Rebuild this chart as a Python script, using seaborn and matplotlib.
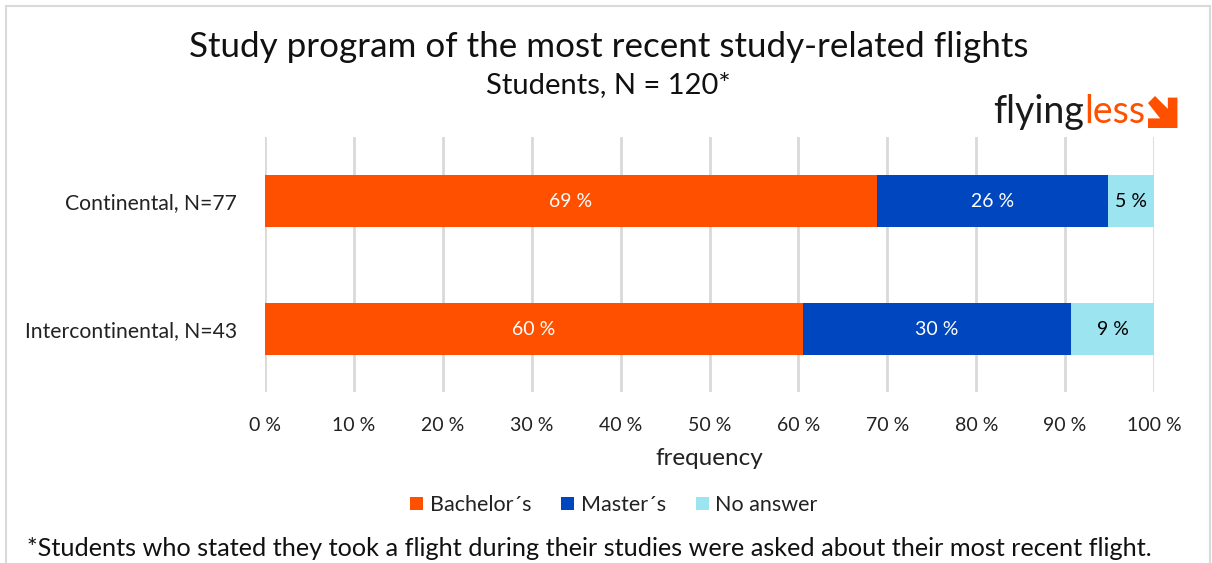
import matplotlib
matplotlib.use("Agg")
import matplotlib.pyplot as plt
from matplotlib.patches import Rectangle, Polygon, Patch
import seaborn as sns
import pandas as pd
import numpy as np

# Survey data: number of flights per study program
categories = ["Continental, N=77", "Intercontinental, N=43"]
bachelor = [53, 26]
master = [20, 13]
no_answer = [4, 4]
series_names = ["Bachelor´s", "Master´s", "No answer"]
tick_labels = ["0 %", "10 %", "20 %", "30 %", "40 %", "50 %", "60 %", "70 %", "80 %", "90 %", "100 %"]

colors = {"Bachelor´s": "#FF5000", "Master´s": "#0046BE", "No answer": "#9BE4F0"}

totals = np.array(bachelor) + np.array(master) + np.array(no_answer)
pct = {
    "Bachelor´s": np.array(bachelor) / totals * 100,
    "Master´s": np.array(master) / totals * 100,
    "No answer": np.array(no_answer) / totals * 100,
}

sns.set_theme(style="whitegrid")
plt.rcParams["font.family"] = ["Lato", "DejaVu Sans"]

W, H = 1212, 563
fig = plt.figure(figsize=(W / 100, H / 100), dpi=100)
ax = fig.add_axes([265 / W, 1 - 392 / H, (1154 - 265) / W, (392 - 137) / H])

# Stacked bars: draw cumulative totals from the back to the front
cum = np.zeros(len(categories))
cums = []
for name in series_names:
    left = cum.copy()
    cum = cum + pct[name]
    cums.append((name, left, cum.copy()))

for name, left, right in reversed(cums):
    df = pd.DataFrame({"category": categories, "value": right})
    sns.barplot(data=df, x="value", y="category", orient="h", color=colors[name],
                width=0.41, saturation=1, ax=ax, edgecolor="none", linewidth=0)

# Segment labels
for name, left, right in cums:
    txt_color = "black" if name == "No answer" else "white"
    for i, (l, r) in enumerate(zip(left, right)):
        ax.text((l + r) / 2, i, f"{r - l:.0f} %", ha="center", va="center",
                color=txt_color, fontsize=14)

ax.set_xlim(0, 100)
ax.set_ylim(1.49, -0.5)
ax.set_xticks(np.arange(0, 101, 10))
ax.set_xticklabels(tick_labels, fontsize=14, color="#222222")
ax.tick_params(axis="y", labelsize=15.2, labelcolor="#222222", pad=20, length=0)
ax.tick_params(axis="x", pad=18, length=0)
ax.set_ylabel("")
ax.set_xlabel("frequency", fontsize=17.5, color="#222222", labelpad=10)
ax.grid(axis="x", color="#d9d9d9", linewidth=2)
ax.grid(axis="y", visible=False)
ax.set_axisbelow(True)
for s in ax.spines.values():
    s.set_visible(False)

# Legend
handles = [Patch(facecolor=colors[n], edgecolor="none") for n in series_names]
fig.legend(handles, series_names, loc="center", bbox_to_anchor=(614 / W, 1 - 505 / H),
           ncol=3, frameon=False, fontsize=15.5, handlelength=0.6, handleheight=0.6,
           handletextpad=0.3, columnspacing=1.4, labelcolor="#222222")

# Titles
fig.text(609 / W, 1 - 47 / H, "Study program of the most recent study-related flights",
         ha="center", va="center", fontsize=25.2, color="#111111")
fig.text(608 / W, 1 - 85 / H, "Students, N = 120*", ha="center", va="center",
         fontsize=21, color="#111111")

# Footnote
fig.text(27 / W, 1 - 548 / H,
         "*Students who stated they took a flight during their studies were asked about their most recent flight.",
         ha="left", va="center", fontsize=18.2, color="#111111")

# Logo
t1 = fig.text(993 / W, 1 - 112 / H, "flying", ha="left", va="center", fontsize=27,
              color="#1a1a1a")
fig.canvas.draw()
bb = t1.get_window_extent()
t2 = fig.text(bb.x1 / W, 1 - 112 / H, "less", ha="left", va="center", fontsize=27,
              color="#FF5000")
fig.canvas.draw()
bb2 = t2.get_window_extent()
ax0 = bb2.x1 + 3
ytop = H - 96
ybot = H - 128
sz = ytop - ybot
arrow_pts = np.array([
    [0.0, 0.78], [0.22, 1.0], [0.62, 0.60], [0.62, 0.95], [0.92, 0.95],
    [0.92, 0.0], [0.0, 0.0], [0.0, 0.30], [0.38, 0.30],
])
arrow_pts = np.column_stack([ax0 + arrow_pts[:, 0] * sz, ybot + arrow_pts[:, 1] * sz])
fig.add_artist(Polygon(arrow_pts, closed=True, facecolor="#FF5000", edgecolor="none",
                       transform=None))

# Outer frame
fig.add_artist(Rectangle((5.5 / W, -0.05), (1210 - 5.5) / W, 1.05 - 5.5 / H,
                         transform=fig.transFigure, fill=False, edgecolor="#d9d9d9",
                         linewidth=1.5))

fig.savefig("out.png", dpi=100)
